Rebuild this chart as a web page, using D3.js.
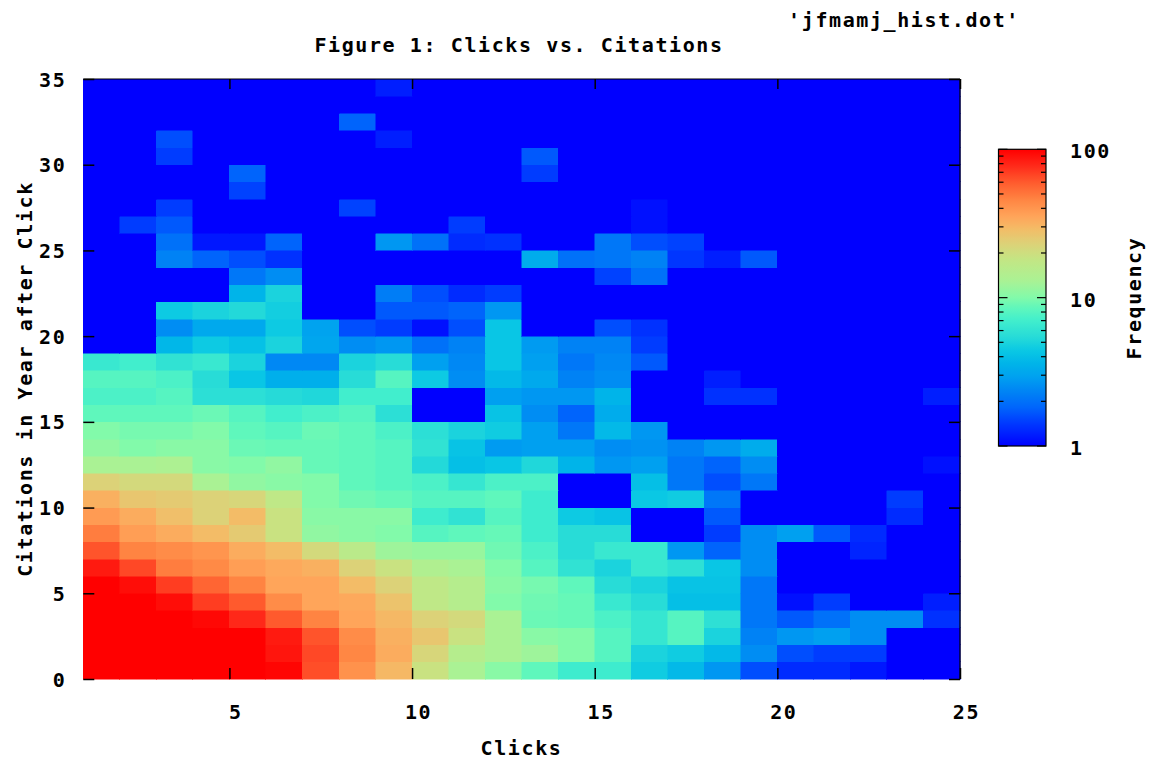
<!DOCTYPE html>
<html>
<head>
<meta charset="utf-8">
<script src="https://cdn.jsdelivr.net/npm/d3@7"></script>
<style>
  body { margin: 0; background: #fff; }
  text { font-family: "DejaVu Sans Mono", "Liberation Mono", monospace; font-weight: bold; font-size: 20px; fill: #000; letter-spacing: 1.6px; }
</style>
</head>
<body>
<svg id="chart" width="1157" height="762"></svg>
<script>
// ---------------- data ----------------
const titleText = "Figure 1: Clicks vs. Citations";
const keyText = "'jfmamj_hist.dot'";
const xLabel = "Clicks";
const yLabel = "Citations in Year after Click";
const cbLabel = "Frequency";

const clickBins = d3.range(1, 25);      // column starts, 1..24
const citationBins = d3.range(0, 35);   // row starts, 0..34
const xTicks = [5, 10, 15, 20, 25];
const yTicks = [0, 5, 10, 15, 20, 25, 30, 35];
const cbMajorTicks = [1, 10, 100];
const cbMinorTicks = [2, 3, 4, 5, 6, 7, 8, 9, 20, 30, 40, 50, 60, 70, 80, 90];

// frequency[row][col]; row = citations 0..34, col = clicks 1..24
const frequency = [
  [170,170,160,140,120,97,64,41,30,19,13,10.5, 8.5,6.8,6.8,4.6,3.8,2.7,1.6,1.3,1.3,1.15,0,0],
  [160,160,150,130,110,88,66,45,33,22,15,13, 12,10,8,5,4.6,3.8,2.5,1.6,1.45,1.45,0,0],
  [150,150,130,120,105,85,62,43,32,26,19,13, 10.5,10,8,6.3,8,5,2.3,2.7,2.9,2.5,0,0],
  [130,130,110,95,78,60,46,35,30,23,21,13, 9,8.8,7.5,6.3,8,5.8,2.1,1.7,2.0,2.5,2.5,1.35],
  [120,110,92,70,60,43,35,34,27,17,15,10, 9.2,8.8,6.5,5.5,4,4,2.1,1.1,1.45,0,0,1.2],
  [100,92,70,56,46,35,35,29,23,17,15,10.5, 9.5,8.5,5.5,5,4.2,4.2,2.1,0,0,0,0,0],
  [85,66,48,44,37,34,32,23,19,14,13,10, 8,6,5,6.5,5.8,4.3,2.5,0,0,0,0,0],
  [62,46,43,40,33,29,21,16,12,11.5,11.5,9.2, 7.5,5.5,6.5,6.5,2.7,1.8,2.5,0,0,1.25,0,0],
  [48,37,33,29,25,19,11,10.5,10,8,8.5,8.8, 6.8,5.5,5.5,0,0,1.45,2.5,2.9,1.7,1.3,0,0],
  [38,33,28,23,29,19,10.5,10.5,10.5,6.8,6,8, 6.8,4.5,4.2,0,0,1.7,0,0,0,0,1.3,0],
  [32,26,25,23,22,17,10,9.2,8.8,8,8,8.5, 6.8,0,0,4.4,4.6,2.1,0,0,0,0,1.45,0],
  [23,21,21,13,11,10.5,10,8.5,8,7.5,6.3,7.5, 7.5,0,0,4,2.1,1.6,2.1,0,0,0,0,0],
  [13,13,13.5,10.5,10,11,8.8,8.5,8,5.3,4,4.3, 5.2,3.6,2.7,2.9,2.1,1.8,2.5,0,0,0,0,1.1],
  [11,10,10.5,10.5,9,8.8,8.8,8.5,8,6,4.2,2.8, 2.9,2.9,2.5,2.6,2.3,2.7,3.3,0,0,0,0,0],
  [10,9.5,9.5,10,8.5,8,9,8.5,7.5,5.7,5,4.6, 2.9,2.1,3.8,2.7,0,0,0,0,0,0,0,0],
  [8.5,8.5,8.5,9,8,7,7.5,8,5.7,0,0,4.2, 2.5,1.8,3.3,0,0,0,0,0,0,0,0,0],
  [7.5,7.5,8,5.7,5.7,5.4,5.2,7,7,0,0,2.9, 2.7,2.7,3.6,0,0,1.35,1.35,0,0,0,0,1.2],
  [8,8,7.5,5.5,4.3,3.4,3.4,5.5,8,4.5,2.5,3.8, 3.2,2.3,2.5,0,0,1.2,0,0,0,0,0,0],
  [6.5,7,6,6.5,5,2.4,2.4,5,5.5,2.9,2.4,4.3, 2.9,2.1,2.4,1.7,0,0,0,0,0,0,0,0],
  [0,0,3.7,4.5,4.1,5,3.1,2.5,2.7,2.0,2.3,4.3, 2.8,2.3,2.3,1.45,0,0,0,0,0,0,0,0],
  [0,0,2.5,3.2,3.2,4.5,3,1.6,1.45,1.1,1.6,4.3, 0,0,1.6,1.35,0,0,0,0,0,0,0,0],
  [0,0,4.5,5,5.3,4.7,0,0,1.7,1.7,1.8,2.7, 0,0,0,0,0,0,0,0,0,0,0,0],
  [0,0,0,0,3.6,5,0,0,2.2,1.6,1.3,1.45, 0,0,0,0,0,0,0,0,0,0,0,0],
  [0,0,0,0,2.1,2.5,0,0,0,0,0,0, 0,0,1.5,2.0,0,0,0,0,0,0,0,0],
  [0,0,2.3,1.8,1.6,1.35,0,0,0,0,0,0, 3.3,2.0,2.1,2.3,1.4,1.2,1.7,0,0,0,0,0],
  [0,0,2.0,1.15,1.15,1.8,0,0,2.7,2.0,1.3,1.35, 0,0,2.1,1.6,1.5,0,0,0,0,0,0,0],
  [0,1.45,1.7,0,0,0,0,0,0,0,1.45,0, 0,0,0,1.1,0,0,0,0,0,0,0,0],
  [0,0,1.45,0,0,0,0,1.5,0,0,0,0, 0,0,0,1.1,0,0,0,0,0,0,0,0],
  [0,0,0,0,1.5,0,0,0,0,0,0,0, 0,0,0,0,0,0,0,0,0,0,0,0],
  [0,0,0,0,1.8,0,0,0,0,0,0,0, 1.45,0,0,0,0,0,0,0,0,0,0,0],
  [0,0,1.45,0,0,0,0,0,0,0,0,0, 1.7,0,0,0,0,0,0,0,0,0,0,0],
  [0,0,1.6,0,0,0,0,0,1.2,0,0,0, 0,0,0,0,0,0,0,0,0,0,0,0],
  [0,0,0,0,0,0,0,1.8,0,0,0,0, 0,0,0,0,0,0,0,0,0,0,0,0],
  [0,0,0,0,0,0,0,0,0,0,0,0, 0,0,0,0,0,0,0,0,0,0,0,0],
  [0,0,0,0,0,0,0,0,1.2,0,0,0, 0,0,0,0,0,0,0,0,0,0,0,0]
];

// palette stops (frequency value -> colour), log scale 1..100
const paletteValues = [1,1.2,1.45,1.8,2.3,2.9,3.6,4.4,5.5,7,8.5,10,13,18,23,29,35,45,60,78,100];
const paletteColors = ["#0000ff","#001eff","#003cff","#0064fc","#0082f5","#00a0f0","#00b4e9","#0ac8e4","#28dcd7","#41eecd","#5ff7bc","#82faaa","#aaf294","#c3e684","#dcd278","#f3bc67","#ffa55a","#ff8744","#ff5a2d","#ff2819","#ff0000"];

// ---------------- drawing ----------------
const svg = d3.select("#chart");
const plot = { left: 83.3, right: 960, top: 79, bottom: 679 };

const x = d3.scaleLinear().domain([1, 25]).range([plot.left, plot.right]);
const y = d3.scaleLinear().domain([0, 35]).range([plot.bottom, plot.top]);
const color = d3.scaleLog().domain(paletteValues).range(paletteColors).clamp(true);
const fill = v => color(Math.max(v, 1));

// cells
const cells = [];
citationBins.forEach((r, ri) => clickBins.forEach((c, ci) => cells.push({ c, r, v: frequency[ri][ci] })));
svg.append("g").selectAll("rect").data(cells).join("rect")
  .attr("x", d => x(d.c))
  .attr("y", d => y(d.r + 1))
  .attr("width", d => x(d.c + 1) - x(d.c))
  .attr("height", d => y(d.r) - y(d.r + 1))
  .attr("fill", d => fill(d.v))
  .attr("stroke", d => fill(d.v))
  .attr("stroke-width", 0.5)
  .attr("shape-rendering", "crispEdges");

// border (top and right drawn as in the reference)
svg.append("line").attr("x1", plot.left).attr("x2", plot.right).attr("y1", plot.top).attr("y2", plot.top)
  .attr("stroke", "#000").attr("stroke-width", 1.2);
svg.append("line").attr("x1", plot.right).attr("x2", plot.right).attr("y1", plot.top).attr("y2", plot.bottom)
  .attr("stroke", "#000").attr("stroke-width", 1.2);

// axes
const axB = svg.append("g").attr("transform", `translate(0,${plot.bottom})`)
  .call(d3.axisBottom(x).tickValues(xTicks).tickSize(-11).tickPadding(25).tickFormat(d3.format("d")));
const axL = svg.append("g").attr("transform", `translate(${plot.left},0)`)
  .call(d3.axisLeft(y).tickValues(yTicks).tickSize(-11).tickPadding(17).tickFormat(d3.format("d")));
const axT = svg.append("g").attr("transform", `translate(0,${plot.top})`)
  .call(d3.axisTop(x).tickValues(xTicks).tickSize(-10).tickFormat(""));
const axR = svg.append("g").attr("transform", `translate(${plot.right},0)`)
  .call(d3.axisRight(y).tickValues(yTicks).tickSize(-11).tickFormat(""));
[axB, axL, axT, axR].forEach(g => {
  g.select(".domain").remove();
  g.selectAll(".tick line").attr("stroke", "#000").attr("stroke-width", 1.5);
  g.selectAll("text").attr("font-family", null).attr("font-size", null).style("fill", "#000");
});
axB.selectAll(".tick text").attr("dx", 6).attr("dy", 14.5);
axL.selectAll(".tick text").attr("dy", 7);

// titles
svg.append("text").attr("x", 519).attr("y", 51.5).attr("text-anchor", "middle").text(titleText);
svg.append("text").attr("x", 1020).attr("y", 26.5).attr("text-anchor", "end").text(keyText);
svg.append("text").attr("x", 521.5).attr("y", 755).attr("text-anchor", "middle").text(xLabel);
svg.append("text").attr("transform", "translate(32,379) rotate(-90)").attr("text-anchor", "middle").text(yLabel);
svg.append("text").attr("transform", "translate(1141,298) rotate(-90)").attr("text-anchor", "middle").text(cbLabel);

// colour bar
const cb = { x: 998.5, w: 47.5, top: 149.3, bottom: 446 };
const cbScale = d3.scaleLog().domain([1, 100]).range([cb.bottom, cb.top]);
const defs = svg.append("defs");
const grad = defs.append("linearGradient").attr("id", "cbgrad")
  .attr("x1", 0).attr("y1", 1).attr("x2", 0).attr("y2", 0);
d3.range(0, 101).forEach(i => {
  const v = Math.pow(10, i / 50);
  grad.append("stop").attr("offset", (i / 100)).attr("stop-color", fill(v));
});
svg.append("rect").attr("x", cb.x).attr("y", cb.top).attr("width", cb.w).attr("height", cb.bottom - cb.top)
  .attr("fill", "url(#cbgrad)").attr("stroke", "#000").attr("stroke-width", 1.2);

const cbTicks = svg.append("g");
const tickData = cbMajorTicks.map(v => ({ v, len: 9 })).concat(cbMinorTicks.map(v => ({ v, len: 5 })));
cbTicks.selectAll("line.l").data(tickData).join("line").attr("class", "l")
  .attr("x1", cb.x).attr("x2", d => cb.x + d.len)
  .attr("y1", d => cbScale(d.v)).attr("y2", d => cbScale(d.v))
  .attr("stroke", "#000").attr("stroke-width", 1.2);
cbTicks.selectAll("line.r").data(tickData).join("line").attr("class", "r")
  .attr("x1", cb.x + cb.w).attr("x2", d => cb.x + cb.w - d.len)
  .attr("y1", d => cbScale(d.v)).attr("y2", d => cbScale(d.v))
  .attr("stroke", "#000").attr("stroke-width", 1.2);
cbTicks.selectAll("text").data(cbMajorTicks).join("text")
  .attr("x", 1070).attr("y", d => cbScale(d) + 9)
  .text(d => d3.format("d")(d));
</script>
</body>
</html>
